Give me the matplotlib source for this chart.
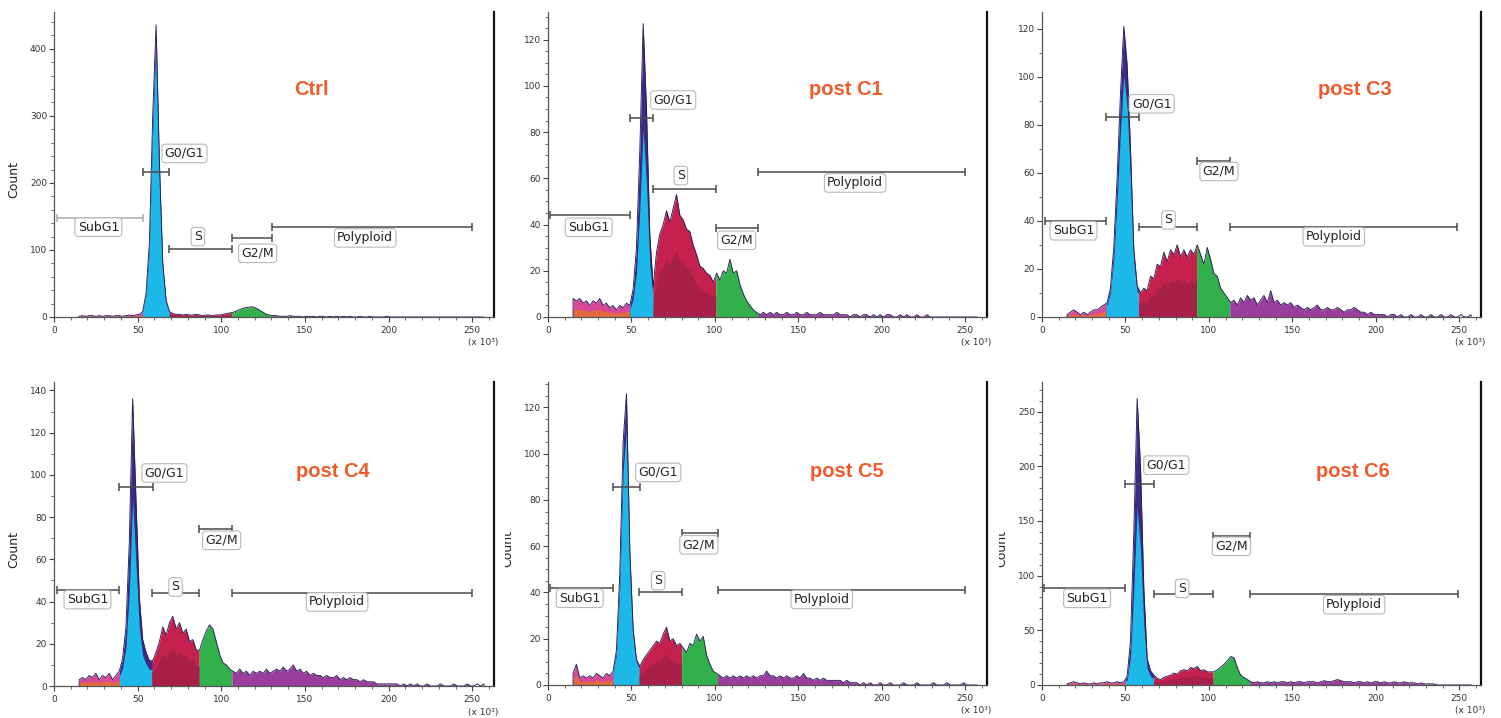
import numpy as np
import matplotlib
matplotlib.use("Agg")
import matplotlib.pyplot as plt
from matplotlib.ticker import MultipleLocator
from matplotlib.transforms import Bbox, TransformedBbox

# DNA content channel (x 10^3), bin centres
channel = np.arange(15, 259, 2)

# counts per channel (rows of 10 channels)
ctrl_counts = [
    1, 2, 1, 2, 2, 1, 2, 1, 2, 2,            # 15-33
    1, 2, 2, 1, 2, 3, 2, 3, 4, 8,            # 35-53
    35, 110, 300, 436, 230, 80, 25, 8, 5, 4,  # 55-73
    4, 3, 4, 3, 3, 4, 3, 2, 3, 3,            # 75-93
    2, 3, 3, 4, 5, 6, 7, 9, 11, 13,          # 95-113
    14, 15, 15, 13, 10, 7, 4, 3, 2, 2,       # 115-133
    1, 1, 1, 2, 1, 1, 1, 0, 1, 1,            # 135-153
    1, 0, 1, 1, 0, 1, 0, 1, 0, 1,            # 155-173
    0, 1, 0, 0, 1, 0, 0, 1, 0, 0,            # 175-193
    0, 0, 1, 0, 0, 0, 0, 0, 0, 0,            # 195-213
    0, 0, 0, 0, 0, 0, 0, 0, 0, 0,            # 215-233
    0, 0, 0, 0, 0, 0, 0, 0, 0, 0,            # 235-253
    0, 0]                                    # 255-257

c1_counts = [
    8, 7, 8, 6, 7, 5, 7, 6, 8, 5,
    6, 4, 5, 3, 5, 4, 6, 5, 12, 30,
    72, 127, 90, 35, 13, 28, 36, 40, 46, 41,
    47, 53, 44, 42, 38, 37, 31, 27, 22, 21,
    19, 18, 15, 19, 16, 20, 19, 25, 19, 20,
    14, 10, 7, 5, 3, 2, 1, 2, 1, 2,
    1, 2, 1, 1, 2, 1, 1, 2, 1, 1,
    2, 1, 1, 1, 2, 1, 1, 1, 1, 2,
    1, 1, 1, 0, 1, 1, 0, 1, 1, 0,
    1, 0, 1, 0, 1, 1, 0, 0, 1, 0,
    1, 0, 0, 1, 0, 0, 1, 0, 0, 0,
    0, 0, 0, 0, 0, 0, 0, 0, 0, 0,
    0, 0]

c3_counts = [
    1, 2, 3, 2, 1, 2, 1, 2, 3, 3,
    4, 5, 6, 12, 29, 58, 93, 121, 105, 70,
    28, 13, 10, 12, 11, 17, 16, 22, 21, 27,
    23, 28, 26, 30, 25, 28, 25, 28, 26, 30,
    26, 22, 29, 24, 18, 17, 12, 10, 8, 6,
    7, 5, 8, 6, 9, 7, 8, 5, 7, 9,
    6, 11, 6, 7, 5, 6, 5, 6, 4, 5,
    4, 3, 4, 3, 4, 5, 3, 3, 4, 3,
    3, 4, 3, 2, 3, 3, 4, 3, 2, 2,
    1, 2, 1, 1, 1, 1, 0, 1, 1, 0,
    1, 0, 0, 1, 0, 0, 1, 0, 0, 1,
    0, 0, 1, 0, 0, 1, 0, 0, 1, 0,
    0, 1]

c4_counts = [
    3, 4, 3, 5, 4, 6, 3, 5, 4, 6,
    3, 5, 7, 13, 28, 68, 136, 88, 42, 22,
    16, 12, 12, 16, 21, 28, 24, 30, 33, 27,
    30, 25, 27, 21, 22, 17, 17, 22, 26, 29,
    27, 21, 15, 11, 10, 8, 7, 6, 8, 6,
    7, 5, 7, 6, 7, 6, 8, 6, 7, 8,
    7, 9, 7, 8, 10, 7, 8, 6, 7, 5,
    6, 5, 5, 4, 5, 4, 4, 5, 3, 4,
    3, 4, 3, 3, 2, 3, 2, 2, 2, 1,
    1, 1, 1, 1, 1, 1, 0, 1, 0, 1,
    0, 1, 0, 0, 1, 0, 0, 0, 1, 0,
    0, 0, 1, 0, 0, 0, 1, 0, 0, 1,
    0, 1]

c5_counts = [
    5, 9, 3, 4, 3, 4, 3, 5, 4, 3,
    5, 4, 6, 15, 48, 105, 126, 58, 24, 11,
    8, 11, 13, 15, 17, 19, 18, 22, 25, 19,
    20, 17, 18, 16, 14, 18, 17, 22, 19, 21,
    13, 9, 6, 5, 4, 3, 4, 3, 4, 3,
    4, 3, 4, 3, 4, 3, 4, 4, 6, 4,
    4, 3, 4, 3, 4, 3, 3, 4, 3, 5,
    3, 3, 2, 3, 2, 3, 2, 2, 2, 2,
    2, 1, 2, 1, 1, 1, 0, 1, 0, 1,
    0, 0, 1, 0, 0, 1, 0, 0, 0, 1,
    0, 0, 0, 1, 0, 0, 0, 0, 1, 0,
    0, 0, 1, 0, 0, 0, 0, 1, 0, 0,
    0, 0]

c6_counts = [
    1, 2, 3, 2, 1, 2, 1, 1, 2, 1,
    2, 2, 3, 2, 2, 3, 2, 3, 8, 40,
    140, 262, 200, 88, 24, 13, 9, 6, 5, 7,
    8, 9, 11, 10, 13, 14, 13, 16, 15, 17,
    13, 14, 12, 12, 12, 14, 16, 19, 22, 26,
    25, 16, 9, 7, 5, 3, 2, 3, 2, 2,
    3, 2, 3, 2, 3, 3, 2, 3, 2, 3,
    3, 2, 3, 3, 3, 2, 3, 4, 3, 3,
    4, 5, 4, 3, 3, 3, 2, 3, 3, 2,
    3, 2, 3, 3, 2, 3, 2, 2, 3, 2,
    2, 3, 2, 2, 2, 1, 2, 1, 1, 1,
    1, 0, 0, 0, 0, 0, 0, 0, 0, 0,
    0, 0]

gate_names = ["SubG1", "G0/G1", "S", "G2/M", "Polyploid"]

# gate ranges (x 10^3) and the height each gate bar is drawn at
ctrl_gates = [(1.6, 52.9), (52.9, 69.0), (69.0, 106.3), (106.3, 130.3), (130.3, 249.6)]
ctrl_gate_y = [148, 216, 101, 118, 135]
c1_gates = [(1.4, 49.0), (49.0, 63.0), (63.0, 100.6), (100.6, 125.6), (125.6, 249.6)]
c1_gate_y = [44.3, 86, 55.2, 38.4, 62.8]
c3_gates = [(1.6, 38.4), (38.4, 57.9), (57.9, 92.6), (92.6, 112.5), (112.5, 248.4)]
c3_gate_y = [40.1, 83.3, 37.6, 65, 37.6]
c4_gates = [(1.6, 39.1), (39.1, 59.1), (58.5, 86.8), (86.8, 106.3), (106.3, 249.6)]
c4_gate_y = [45.6, 94.2, 44.2, 74.5, 44.2]
c5_gates = [(1.4, 39.0), (39.0, 55.0), (54.6, 80.2), (80.2, 101.6), (101.6, 249.6)]
c5_gate_y = [41.8, 85.8, 40.1, 65.9, 41.1]
c6_gates = [(1.2, 50.0), (50.0, 67.0), (67.0, 102.5), (102.5, 124.5), (124.5, 249.4)]
c6_gate_y = [88.6, 183.7, 82.8, 136, 82.8]

panel_titles = ["Ctrl", "post C1", "post C3", "post C4", "post C5", "post C6"]

# ---- layout / style -------------------------------------------------------
W, H = 1501, 718
fig = plt.figure(figsize=(W / 100, H / 100), dpi=100)

panels = [
    dict(counts=ctrl_counts, gates=ctrl_gates, gy=ctrl_gate_y,
         rect=(54, 12, 440, 305), ylim=455, major=100, minor=20, cyan=0.93,
         labels=[(26.5, 134), (78, 244), (86, 120), (121.7, 95), (186, 118)],
         title_xy=(0.584, 0.745), count_lbl=True),
    dict(counts=c1_counts, gates=c1_gates, gy=c1_gate_y,
         rect=(548, 12, 439, 305), ylim=132, major=20, minor=5, cyan=0.64,
         labels=[(24.4, 38.8), (75, 93.9), (79.6, 61.2), (113, 33.2), (184, 58)],
         title_xy=(0.679, 0.745)),
    dict(counts=c3_counts, gates=c3_gates, gy=c3_gate_y,
         rect=(1042, 12, 439, 305), ylim=127, major=20, minor=10, cyan=0.83,
         labels=[(18.9, 35.9), (65.7, 88.8), (75.8, 40.4), (106, 60.6), (174.8, 33.4)],
         title_xy=(0.713, 0.745)),
    dict(counts=c4_counts, gates=c4_gates, gy=c4_gate_y,
         rect=(54, 382, 440, 304), ylim=144, major=20, minor=10, cyan=0.65,
         labels=[(20, 40.9), (66, 100.9), (72.6, 46.9), (100.2, 69), (169.2, 39.8)],
         title_xy=(0.634, 0.704), count_lbl=True),
    dict(counts=c5_counts, gates=c5_gates, gy=c5_gate_y,
         rect=(548, 382, 439, 303), ylim=131, major=20, minor=5, cyan=0.88,
         labels=[(19, 37.5), (66, 91.9), (66, 45.1), (90.4, 60.6), (164, 37)],
         title_xy=(0.681, 0.704), clip_count=(508, 505)),
    dict(counts=c6_counts, gates=c6_gates, gy=c6_gate_y,
         rect=(1042, 382, 439, 303), ylim=277, major=50, minor=10, cyan=0.62,
         labels=[(27, 79.2), (74.5, 201), (84, 88.3), (113.5, 126.8), (187, 73.4)],
         title_xy=(0.708, 0.704), clip_count=(1002, 999)),
]

region_colors = ["#d8479a", "#3b2b88", "#c6204f", "#31b04c", "#9a3e9e"]
overlay_colors = ["#e36a3a", "#1cb9e8", "#a81f4a", "#31b04c", "#9a3e9e"]
overlay_scale = [0.45, None, 0.55, 1.0, 1.0]
outline_color = "#2a1d58"
XMAX = 263


def segment(x, y, a, b):
    a = max(a, x[0])
    b = min(b, x[-1])
    inside = (x > a) & (x < b)
    xs = np.r_[a, x[inside], b]
    ys = np.r_[np.interp(a, x, y), y[inside], np.interp(b, x, y)]
    return xs, ys


for i, p in enumerate(panels):
    px, py, pw, ph = p["rect"]
    ax = fig.add_axes([px / W, (H - py - ph) / H, pw / W, ph / H])
    y = np.array(p["counts"], dtype=float)
    x = channel

    for k, (a, b) in enumerate(p["gates"]):
        xs, ys = segment(x, y, a, b)
        ax.fill_between(xs, 0, ys, color=region_colors[k], lw=0)
        sc = p["cyan"] if k == 1 else overlay_scale[k]
        if sc < 1.0:
            ax.fill_between(xs, 0, ys * sc, color=overlay_colors[k], lw=0)

    ax.plot(np.r_[x[0], x, x[-1]], np.r_[0, y, 0], color=outline_color, lw=0.65)

    # gate bars and their labels
    for k, ((a, b), gy) in enumerate(zip(p["gates"], p["gy"])):
        c = "#aaaaaa" if (i == 0 and k == 0) else "#4a4a4a"
        ax.plot([a, b], [gy, gy], color=c, lw=1.1, solid_capstyle="butt")
        ax.plot([a, b], [gy, gy], ls="none", marker="|", ms=6, mew=1.1, color=c)
        lx, ly = p["labels"][k]
        ax.text(lx, ly, gate_names[k], ha="center", va="center", fontsize=9,
                color="#222222",
                bbox=dict(boxstyle="round,pad=0.22,rounding_size=0.25",
                          fc="white", ec="#b8b8b8", lw=0.8))

    ax.text(p["title_xy"][0], p["title_xy"][1], panel_titles[i],
            transform=ax.transAxes, ha="center", va="center",
            fontsize=14.5, fontweight="bold", color="#f15a29",
            family=["Liberation Sans", "DejaVu Sans"])

    ax.set_xlim(0, XMAX)
    ax.set_ylim(0, p["ylim"])
    ax.xaxis.set_major_locator(MultipleLocator(50))
    ax.xaxis.set_minor_locator(MultipleLocator(10))
    ax.yaxis.set_major_locator(MultipleLocator(p["major"]))
    ax.yaxis.set_minor_locator(MultipleLocator(p["minor"]))
    ax.tick_params(which="major", labelsize=6.5, labelcolor="#333333",
                   color="#444444", length=3.5, width=0.8, pad=1.5)
    ax.tick_params(which="minor", color="#555555", length=2, width=0.6)
    ax.tick_params(axis="x", pad=3)
    ax.spines["top"].set_visible(False)
    for s in ("left", "bottom"):
        ax.spines[s].set_color("#555555")
        ax.spines[s].set_linewidth(0.9)
    ax.spines["right"].set_color("#111111")
    ax.spines["right"].set_linewidth(1.6)
    ax.patch.set_alpha(0)

    ax.text(1.0 + 4 / pw, -26 / ph, "(x 10³)", transform=ax.transAxes,
            ha="right", va="center", fontsize=6.5, color="#333333")

    cy = (H - py - ph / 2 - 15) / H
    if p.get("count_lbl"):
        fig.text(14 / W, cy, "Count", rotation=90, ha="center", va="center",
                 fontsize=9, color="#222222")
    if p.get("clip_count"):
        cx, clip_x = p["clip_count"]
        t = fig.text(cx / W, cy, "Count", rotation=90, ha="center", va="center",
                     fontsize=9, color="#222222")
        t.set_clip_box(TransformedBbox(Bbox.from_extents(clip_x / W, 0, 1, 1),
                                       fig.transFigure))
        t.set_clip_on(True)

fig.savefig("out.png", dpi=100, facecolor="white")
